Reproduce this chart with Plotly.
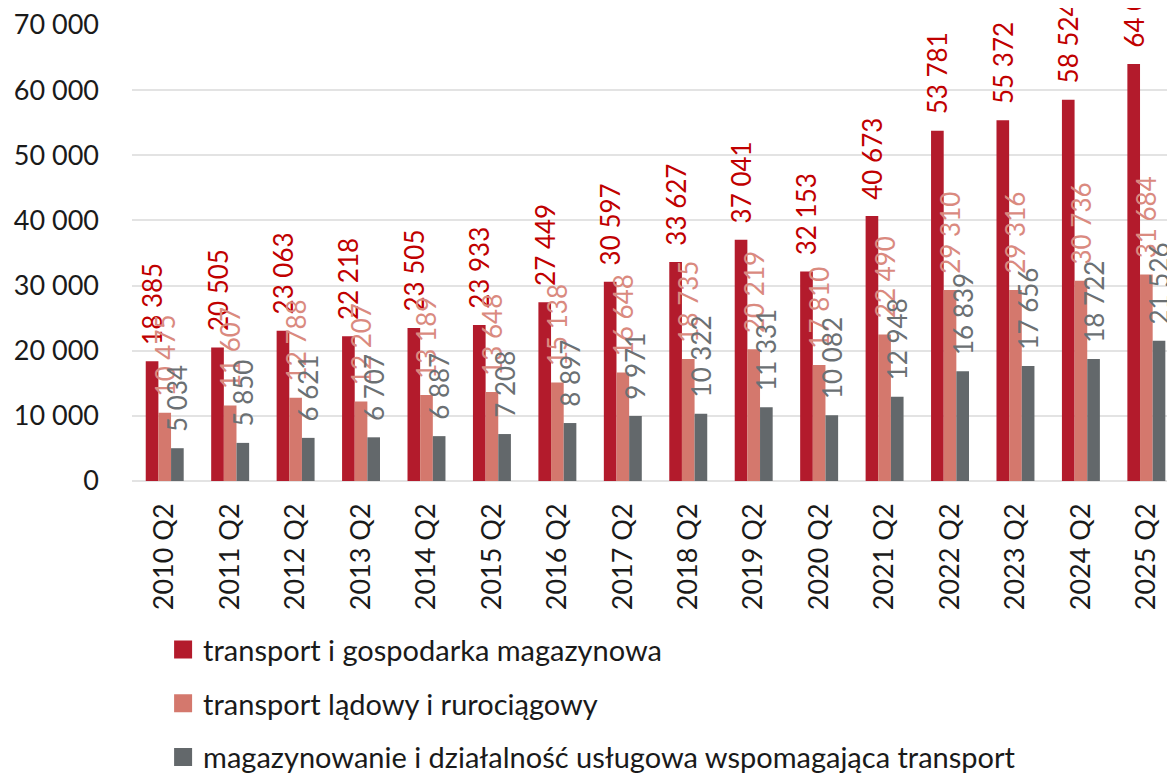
import plotly.graph_objects as go

# categories and series values
quarters = ["2010 Q2", "2011 Q2", "2012 Q2", "2013 Q2", "2014 Q2", "2015 Q2", "2016 Q2", "2017 Q2",
            "2018 Q2", "2019 Q2", "2020 Q2", "2021 Q2", "2022 Q2", "2023 Q2", "2024 Q2", "2025 Q2"]
transport_total = [18385, 20505, 23063, 22218, 23505, 23933, 27449, 30597,
                   33627, 37041, 32153, 40673, 53781, 55372, 58524, 64016]
transport_land = [10475, 11607, 12788, 12207, 13189, 13648, 15138, 16648,
                  18735, 20219, 17810, 22490, 29310, 29316, 30736, 31684]
warehousing = [5034, 5850, 6621, 6707, 6887, 7208, 8897, 9971,
               10322, 11331, 10082, 12948, 16839, 17656, 18722, 21526]

series = [
    ("transport i gospodarka magazynowa", transport_total, "#B31B2C", "#C00000"),
    ("transport lądowy i rurociągowy", transport_land, "#D4786D", "#DA8A7F"),
    ("magazynowanie i działalność usługowa wspomagająca transport", warehousing, "#63686B", "#6B7073"),
]

FONT = "Lato, Arial, sans-serif"

fig = go.Figure()
for i, (name, vals, col, tcol) in enumerate(series):
    fig.add_trace(go.Bar(
        x=quarters, y=vals, name=name, showlegend=False,
        marker=dict(color=col, line=dict(width=0)),
        texttemplate="\u00a0\u00a0%{y:,}", textposition="outside",
        textangle=-90, constraintext="none", cliponaxis=False,
        textfont=dict(family=FONT, size=26, color=tcol),
    ))
    # legend entry with a bigger square swatch
    fig.add_trace(go.Scatter(
        x=[None], y=[None], mode="markers", name=name, legendgroup=str(i),
        marker=dict(symbol="square", size=16, color=col, line=dict(color=col, width=2)),
    ))

# the page body adds an 8px offset, margins compensate for it
fig.update_layout(
    width=1175, height=779,
    margin=dict(l=124, r=0, t=17, b=306, autoexpand=False),
    paper_bgcolor="white", plot_bgcolor="white",
    separators=", ",
    barmode="group", bargap=0.42, bargroupgap=0,
    font=dict(family=FONT, size=26, color="#1a1a1a"),
    showlegend=True,
    legend=dict(orientation="v", xref="container", yref="container",
                x=0.132, y=0.209, xanchor="left", yanchor="top",
                traceorder="grouped", tracegroupgap=13, itemwidth=30,
                itemsizing="trace",
                font=dict(family=FONT, size=29, color="#1a1a1a")),
)
fig.update_xaxes(range=[-0.5, 15.56], tickangle=-90, showgrid=False, showline=False,
                 ticks="", tickfont=dict(size=27), ticklabelstandoff=16, automargin=False)
fig.update_yaxes(range=[0, 70001], dtick=10000, tickformat=",", showgrid=True,
                 gridcolor="#E3E3E3", gridwidth=2, zeroline=True, zerolinecolor="#E3E3E3",
                 zerolinewidth=2, ticks="", ticklabelstandoff=32, tickfont=dict(size=27),
                 ticklabeloverflow="allow", automargin=False)

fig.write_html("out.html")
